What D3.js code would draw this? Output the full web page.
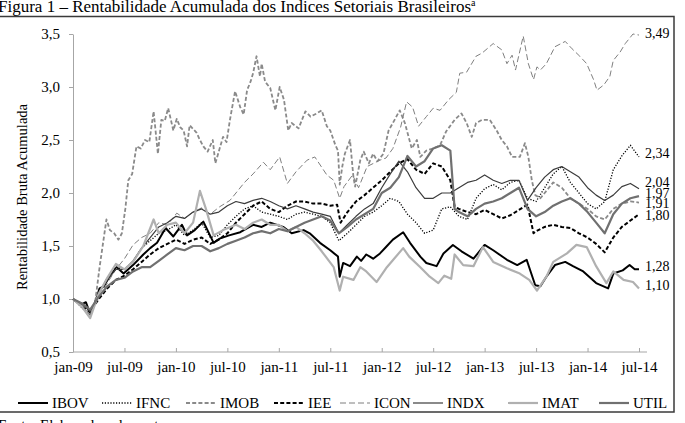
<!DOCTYPE html>
<html><head><meta charset="utf-8">
<script src="https://cdn.jsdelivr.net/npm/d3@7"></script>
<style>
body{margin:0;background:#fff;overflow:hidden}
svg{display:block}
text{font-family:"Liberation Serif","Times New Roman",serif;fill:#000}
</style>
</head><body>
<svg id="chart" width="685" height="423"></svg>
<script>
// ---- DATA : time in months since jan-09 (t) and cumulative gross return (v) ----
const tickLabels = ["jan-09","jul-09","jan-10","jul-10","jan-11","jul-11","jan-12","jul-12","jan-13","jul-13","jan-14","jul-14"];
const tickMonths = [0, 6, 12, 18, 24, 30, 36, 42, 48, 54, 60, 66];
const yTicks = [0.5, 1.0, 1.5, 2.0, 2.5, 3.0, 3.5];
const seriesNames = ["IBOV","IFNC","IMOB","IEE","ICON","INDX","IMAT","UTIL"];
const monthly = d3.range(67);

const IBOV_t = [0,0.5,1,1.5,2,2.5,3.1,3.6,4.3,5.1,5.9,7,8.2,9,9.8,10.8,11.7,12.7,13.3,14.2,15.2,16.4,17.1,18.2,19.5,21,22,23,24.5,25.5,26.9,27.6,28.8,30,30.9,31.1,31.5,32.3,33.1,33.6,34.2,35,35.8,36.5,37.3,38.5,39.3,40.5,41.2,42.4,43.2,44.3,45.3,46.7,48,49,50.6,51.8,52.9,53.9,54.5,55.2,56.2,57.4,58.3,59.5,61,62.4,63,64.1,64.9,65.5,66];
const IBOV   = [1.00,0.97,0.95,0.97,0.86,0.95,1.10,1.12,1.22,1.30,1.24,1.32,1.42,1.48,1.53,1.67,1.59,1.70,1.60,1.65,1.73,1.53,1.57,1.60,1.63,1.70,1.68,1.72,1.68,1.62,1.65,1.62,1.53,1.46,1.40,1.21,1.34,1.31,1.40,1.36,1.42,1.38,1.43,1.49,1.56,1.63,1.53,1.40,1.34,1.31,1.43,1.51,1.45,1.38,1.51,1.46,1.37,1.32,1.37,1.13,1.12,1.21,1.32,1.35,1.31,1.26,1.15,1.10,1.24,1.27,1.32,1.28,1.28];

const IFNC_t = monthly;
const IFNC   = [1.00,0.92,0.85,1.05,1.20,1.30,1.28,1.35,1.48,1.55,1.62,1.65,1.70,1.60,1.65,1.72,1.58,1.60,1.70,1.78,1.85,1.88,1.82,1.80,1.78,1.75,1.80,1.82,1.80,1.78,1.72,1.55,1.62,1.70,1.78,1.82,1.88,1.95,1.92,1.80,1.72,1.62,1.65,1.85,1.87,1.78,1.75,1.95,2.04,2.08,2.03,2.10,2.12,1.95,1.92,2.05,2.18,2.25,2.10,2.00,1.90,1.85,1.92,2.22,2.35,2.45,2.34];

const IMOB_t = [0,1,2,2.6,3.1,3.9,4.3,4.8,5.3,5.7,6.1,6.45,6.9,7.4,7.9,8.4,8.9,9.4,9.9,10.3,10.7,11.1,11.7,12.1,12.5,12.9,13.3,13.6,14.4,14.8,15.2,15.7,16.3,16.6,17.1,17.5,17.9,18.3,18.9,19.5,19.9,20.3,20.7,21,21.4,21.8,22,22.4,23,23.6,24.1,24.6,25.1,25.5,26.3,27.1,27.7,28.4,29,29.6,30,30.6,30.9,31.1,31.4,31.7,32.3,32.7,32.9,33.5,33.9,34.5,35,35.5,36.2,36.8,37.3,38.1,38.7,39.5,40.1,40.5,41.2,42,42.8,43.5,44.5,45.3,45.9,46.5,47,47.7,48.6,49.4,50,50.6,51.2,52.1,52.7,53.1,53.5,53.9,54.5,55,56,57,58,59,60,61,62,63,64,65,66];
const IMOB   = [1.00,0.93,0.85,0.98,1.30,1.75,1.65,1.62,1.56,1.62,1.85,2.12,2.18,2.44,2.42,2.50,2.48,2.77,2.37,2.69,2.68,2.80,2.59,2.70,2.62,2.59,2.44,2.64,2.57,2.50,2.44,2.39,2.50,2.28,2.42,2.53,2.48,2.69,2.96,2.81,2.74,2.97,3.05,3.13,3.29,3.10,3.22,3.05,2.99,2.78,3.00,2.88,2.59,2.66,2.61,2.77,2.72,2.75,2.78,2.63,2.59,2.45,2.40,2.08,2.25,2.37,2.50,2.15,2.06,2.31,2.39,2.28,2.37,2.30,2.37,2.59,2.66,2.78,2.66,2.42,2.50,2.34,2.40,2.42,2.45,2.58,2.69,2.75,2.66,2.53,2.66,2.69,2.69,2.59,2.50,2.44,2.34,2.34,2.47,2.34,2.12,1.98,1.95,2.00,2.10,2.05,1.95,1.90,1.85,1.78,1.75,1.85,1.90,1.92,1.91];

const IEE_t = [0,1,2,3,4,5,6,7,8,9,10,11,12,13,14,15,16,17,18,19,20,21,22,23,24,25,26,27,28,29,30,30.8,31.2,32,33,34,35,36,37,38,39,40,41,42,43,44,44.5,45,46,47,48,49,50,51,52,53,53.7,54,55,56,57,58,59,60,61,62,63,64,65,66];
const IEE   = [1.00,0.94,0.88,1.00,1.10,1.18,1.22,1.28,1.35,1.42,1.48,1.52,1.56,1.52,1.56,1.58,1.52,1.56,1.62,1.72,1.80,1.88,1.92,1.85,1.82,1.88,1.92,1.92,1.90,1.90,1.88,1.89,1.72,1.82,1.92,1.98,2.05,2.12,2.20,2.28,2.32,2.22,2.18,2.28,2.25,2.12,1.87,1.85,1.82,1.80,1.84,1.80,1.76,1.79,1.84,1.89,1.62,1.64,1.68,1.70,1.68,1.67,1.62,1.58,1.52,1.44,1.58,1.68,1.74,1.80];

const ICON_t = [0,1,2,3,4,5,6,7,8,9,10,11,12.1,13,14,15,16,17.1,18.3,19.1,20,21,22.2,23,24.1,25,26,27.3,28.2,29.6,30.4,31.1,31.6,32.6,33.3,34.3,35.8,36.5,37.3,38.2,38.9,39.6,40.3,41.2,42,42.8,43.8,44.7,45.1,45.9,47,47.7,49,50,50.6,51.2,51.6,52.5,53.1,53.7,54.1,54.5,55.2,56.2,57.4,58.2,59.1,59.9,60.7,61.1,61.9,62.6,63,63.8,64.4,65.3,66];
const ICON   = [1.00,0.95,0.85,1.02,1.15,1.28,1.38,1.51,1.58,1.62,1.72,1.70,1.81,1.76,1.82,1.86,1.80,1.87,1.93,2.01,2.10,2.18,2.29,2.22,2.34,2.09,2.20,2.31,2.34,2.17,2.12,1.95,2.06,2.17,2.05,2.25,2.31,2.33,2.42,2.62,2.86,2.81,2.63,2.72,2.80,2.78,2.88,2.95,3.13,3.14,3.29,3.32,3.41,3.35,3.22,3.30,3.16,3.48,3.22,3.07,3.19,3.16,3.22,3.38,3.43,3.36,3.29,3.22,3.07,2.97,3.02,3.10,3.25,3.33,3.41,3.50,3.49];

const INDX_t = monthly;
const INDX   = [1.00,0.96,0.88,1.05,1.18,1.28,1.28,1.36,1.48,1.58,1.68,1.72,1.78,1.76,1.82,1.85,1.80,1.82,1.88,1.92,1.90,1.93,1.95,1.92,1.88,1.85,1.88,1.85,1.82,1.80,1.78,1.62,1.70,1.78,1.85,1.90,2.05,2.18,2.30,2.20,2.05,1.95,1.95,2.00,2.00,2.05,2.10,2.12,2.17,2.12,2.09,2.12,2.12,1.93,2.05,2.15,2.22,2.25,2.20,2.15,2.05,1.98,1.93,1.98,2.06,2.09,2.04];

const IMAT_t = [0,1,2,3,4,5,6,7,8.2,9.4,10,11,12,13,14,14.8,15.5,16.4,17.5,19,20,21,22,23,24,25,26,27,28,29,30.4,31.1,31.5,32.7,33.5,34.2,35.4,36.6,38.5,39.2,40.5,41.6,42.6,43.3,44.1,44.5,45.5,46.7,47.8,49,50.6,52.1,53.2,54.1,55.2,56,57.6,58.7,59.9,61,62.2,63,64.2,65.3,66];
const IMAT   = [1.00,0.93,0.82,1.05,1.20,1.33,1.28,1.35,1.50,1.75,1.62,1.70,1.72,1.62,1.72,2.02,1.85,1.60,1.65,1.70,1.66,1.72,1.75,1.70,1.70,1.64,1.68,1.62,1.55,1.45,1.30,1.08,1.21,1.18,1.30,1.26,1.16,1.30,1.48,1.40,1.30,1.21,1.15,1.22,1.19,1.42,1.32,1.31,1.49,1.35,1.29,1.24,1.18,1.08,1.21,1.35,1.43,1.51,1.49,1.31,1.15,1.26,1.18,1.16,1.10];

const UTIL_t = [0,1,2,3,4,5,6,7,8,9,10,11,12,13,14,15,16,17,18,19,20,21,22,23,24,25,26,27,28,29,30,31,32,33,34,35,36,37,38,39,40,41,42,43,44,44.5,45,46,47,48,49,50,51,52,53,54,55,56,57,58,59,60,61,62,63,64,65,66];
const UTIL   = [1.00,0.96,0.90,1.02,1.12,1.18,1.20,1.26,1.30,1.30,1.36,1.42,1.48,1.46,1.50,1.50,1.45,1.48,1.52,1.55,1.58,1.62,1.64,1.62,1.66,1.64,1.68,1.72,1.75,1.78,1.74,1.62,1.68,1.75,1.80,1.85,2.00,2.05,2.15,2.35,2.25,2.30,2.42,2.45,2.40,1.85,1.82,1.78,1.85,1.90,1.92,1.95,2.00,2.05,1.85,1.78,1.82,1.88,1.92,1.95,1.90,1.82,1.72,1.62,1.80,1.90,1.95,1.97];

const seriesT = [IBOV_t, IFNC_t, IMOB_t, IEE_t, ICON_t, INDX_t, IMAT_t, UTIL_t];
const seriesV = [IBOV, IFNC, IMOB, IEE, ICON, INDX, IMAT, UTIL];

// ---- STYLES / LAYOUT ----
const styles = {
  IBOV: {stroke:"#000000", width:2.0, dash:null},
  IFNC: {stroke:"#000000", width:1.3, dash:"1.2,1.6"},
  IMOB: {stroke:"#8a8a8a", width:1.8, dash:"4,2.2"},
  IEE:  {stroke:"#000000", width:2.0, dash:"4,2.2"},
  ICON: {stroke:"#7f7f7f", width:1.0, dash:"6,3"},
  INDX: {stroke:"#3c3c3c", width:1.2, dash:null},
  IMAT: {stroke:"#b0b0b0", width:2.2, dash:null},
  UTIL: {stroke:"#707070", width:2.2, dash:null}
};
const labelNudge = {IBOV:-3, IFNC:-4, IMOB:1, IEE:1, ICON:-2, INDX:-7, IMAT:-3, UTIL:-3};
const legendX = [18, 102, 186, 274, 340, 413, 508, 599];

const svg = d3.select("#chart");
const x = d3.scaleLinear().domain([0, 66]).range([73, 639]);
const y = d3.scaleLinear().domain([0.5, 3.5]).range([352, 34]);
const fmt = v => d3.format(".2f")(v).replace(".", ",");
const fmt1 = v => d3.format(".1f")(v).replace(".", ",");

// frame
svg.append("rect").attr("x", -2).attr("y", 16.5).attr("width", 676).attr("height", 395.5)
  .attr("fill", "none").attr("stroke", "#3a3a3a").attr("stroke-width", 1.5);

// title
svg.append("text").attr("x", -2).attr("y", 12).attr("font-size", 17)
  .text("Figura 1 – Rentabilidade Acumulada dos Índices Setoriais Brasileiros")
  .append("tspan").attr("font-size", 10).attr("dy", -6).text("a");

// source (cut off at bottom)
svg.append("text").attr("x", -2).attr("y", 430).attr("font-size", 15).text("Fonte: Elaborada pelos autores.");

// axes
const axisColor = "#a6a6a6";
const yAxis = svg.append("g").attr("transform", "translate(73,0)")
  .call(d3.axisLeft(y).tickValues(yTicks).tickFormat(fmt1).tickSize(4).tickPadding(9).tickSizeOuter(0));
yAxis.select(".domain").attr("stroke", axisColor);
yAxis.selectAll(".tick line").attr("stroke", axisColor);
yAxis.selectAll("text").attr("font-size", 15).attr("font-family", "Liberation Serif");

const xAxis = svg.append("g").attr("transform", "translate(0,352)")
  .call(d3.axisBottom(x).tickValues(tickMonths).tickFormat((d, i) => tickLabels[i]).tickSize(-4).tickPadding(9.5).tickSizeOuter(0));
xAxis.select(".domain").remove();
xAxis.append("line").attr("x1", 73).attr("x2", 647).attr("stroke", axisColor);
xAxis.selectAll(".tick line").attr("stroke", axisColor);
xAxis.selectAll("text").attr("font-size", 15).attr("font-family", "Liberation Serif");

// y axis title
svg.append("text").attr("transform", "translate(27,197) rotate(-90)")
  .attr("text-anchor", "middle").attr("font-size", 14.5).text("Rentabilidade Bruta Acumulada");

// lines
const g = svg.append("g");
seriesNames.forEach((name, k) => {
  const s = styles[name];
  const ts = seriesT[k];
  const line = d3.line().x((d, i) => x(ts[i])).y(d => y(d));
  g.append("path").datum(seriesV[k]).attr("d", line)
    .attr("fill", "none").attr("stroke", s.stroke).attr("stroke-width", s.width)
    .attr("stroke-dasharray", s.dash).attr("stroke-linejoin", "round");
});

// end labels
seriesNames.forEach((name, k) => {
  const vals = seriesV[k];
  const last = vals[vals.length - 1];
  svg.append("text").attr("x", 645).attr("y", y(last) + labelNudge[name])
    .attr("dy", "0.35em").attr("font-size", 14).text(fmt(last));
});

// legend
const leg = svg.append("g").attr("transform", "translate(0,403)");
seriesNames.forEach((name, k) => {
  const s = styles[name];
  const lx = legendX[k];
  leg.append("line").attr("x1", lx).attr("x2", lx + 30).attr("y1", 0).attr("y2", 0)
    .attr("stroke", s.stroke).attr("stroke-width", s.width).attr("stroke-dasharray", s.dash);
  leg.append("text").attr("x", lx + 34).attr("y", 0).attr("dy", "0.35em").attr("font-size", 15).text(name);
});
</script>
</body></html>
